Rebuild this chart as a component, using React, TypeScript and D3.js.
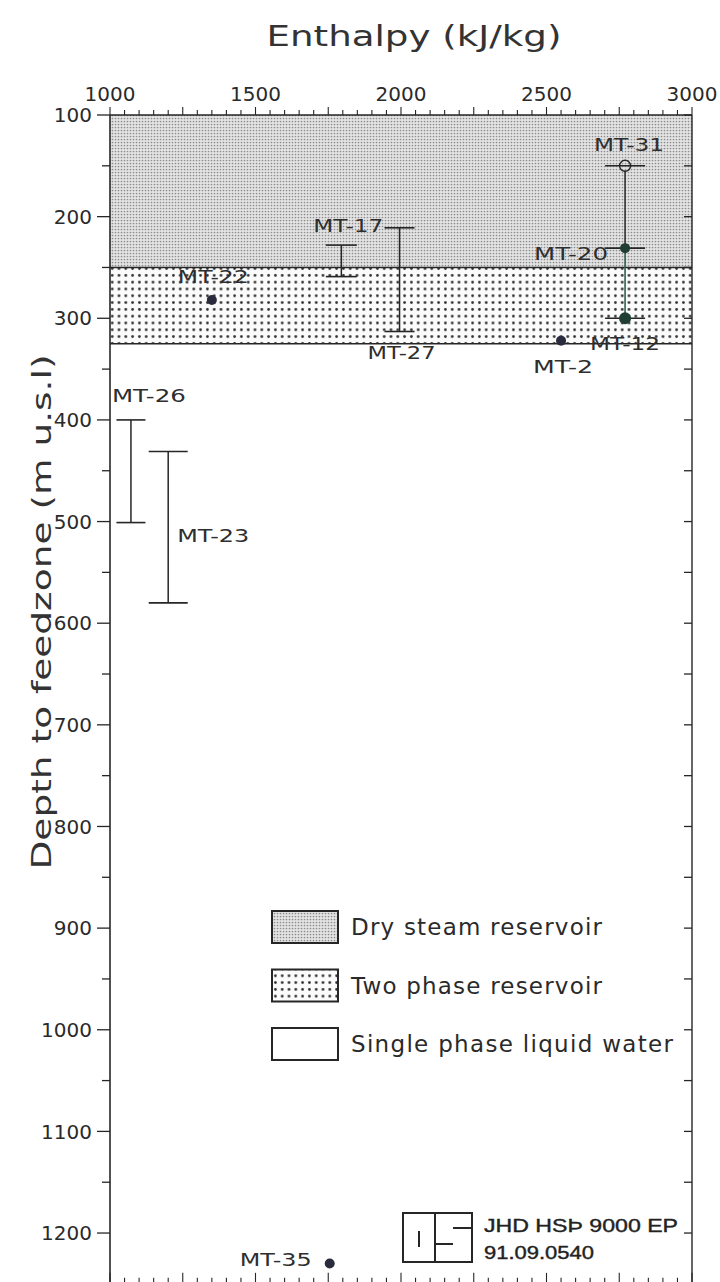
import React from "react";
import * as d3 from "d3";

// ---- data ----
const enthalpyTicks = [1000, 1500, 2000, 2500, 3000];
const depthTicks = [100, 200, 300, 400, 500, 600, 700, 800, 900, 1000, 1100, 1200];

const zoneNames = ["Dry steam reservoir", "Two phase reservoir", "Single phase liquid water"];
const zoneTop = [100, 250, 325];
const zoneBottom = [250, 325, 1250];

const barWells = ["MT-26", "MT-23", "MT-17", "MT-27"];
const barEnthalpy = [1072, 1200, 1795, 1995];
const barTop = [400, 431, 228, 211];
const barBottom = [501, 580, 259, 313];

const pointWells = ["MT-22", "MT-2", "MT-35", "MT-31", "MT-20", "MT-12"];
const pointEnthalpy = [1350, 2550, 1755, 2770, 2770, 2770];
const pointDepth = [282, 322, 1230, 150, 231, 300];
const pointOpen = [false, false, false, true, false, false];

const logoLines = ["JHD HSÞ 9000 EP", "91.09.0540"];

// ---- styles / layout ----
const W = 720;
const H = 1282;
const X0 = 110;
const X1 = 692;
const Y0 = 115;
const PXM = 1.0164;
const x = d3.scaleLinear().domain([1000, 3000]).range([X0, X1]);
const y = d3.scaleLinear().domain([100, 1250]).range([Y0, Y0 + 1150 * PXM]);

const capHalf: Record<string, number> = {
  "MT-26": 14.5, "MT-23": 19.5, "MT-17": 15.5, "MT-27": 15,
  "MT-31": 20, "MT-20": 20, "MT-12": 20,
};
// label offsets [dx, dy-of-center, width] relative to anchor (bars: top end; points: centre)
const labelOff: Record<string, [number, number, number]> = {
  "MT-26": [-19, -24, 74],
  "MT-23": [9, 84, 72],
  "MT-17": [-28, -20, 70],
  "MT-27": [-32, 125, 68],
  "MT-22": [-34, -23, 71],
  "MT-2": [-28, 26, 60],
  "MT-35": [-90, -4, 72],
  "MT-31": [-31, -21, 70],
  "MT-20": [-91, 5, 74],
  "MT-12": [-35, 25, 70],
};

const INK = "#262626";
const FONT = "'DejaVu Sans', sans-serif";

export default function App() {
  const xMinor = d3.range(1000, 3001, 50);
  const yMinor = d3.range(100, 1251, 50);
  const bottomY = y(1250);
  const ptIdx = (w: string) => pointWells.indexOf(w);
  const i31 = ptIdx("MT-31");
  const i20 = ptIdx("MT-20");
  const i12 = ptIdx("MT-12");

  return (
    <svg width={W} height={H} style={{ position: "absolute", left: 0, top: 0, background: "#fff" }}>
      <defs>
        <pattern id="dry" width="3" height="3" patternUnits="userSpaceOnUse">
          <rect width="3" height="3" fill="#e4e4e4" />
          <circle cx="1.5" cy="1.5" r="0.85" fill="#8c8c8c" />
        </pattern>
        <pattern id="two" width="6.8" height="6.8" patternUnits="userSpaceOnUse">
          <rect width="6.8" height="6.8" fill="#fbfbfb" />
          <circle cx="3.4" cy="3.4" r="1.35" fill="#303030" />
        </pattern>
      </defs>

      {/* Title */}
      <text x={414} y={46} textAnchor="middle" fontFamily={FONT} fontSize={29} fill="#333"
        textLength={295} lengthAdjust="spacingAndGlyphs">Enthalpy  (kJ/kg)</text>

      {/* Y label */}
      <text transform={`translate(51,${612}) rotate(-90)`} textAnchor="middle" fontFamily={FONT}
        fontSize={27} fill="#333" textLength={515} lengthAdjust="spacingAndGlyphs">Depth  to  feedzone  (m  u.s.l)</text>

      {/* zones */}
      <rect x={X0} y={y(zoneTop[0])} width={X1 - X0} height={y(zoneBottom[0]) - y(zoneTop[0])} fill="url(#dry)" />
      <rect x={X0} y={y(zoneTop[1])} width={X1 - X0} height={y(zoneBottom[1]) - y(zoneTop[1])} fill="url(#two)" />
      <line x1={X0} x2={X1} y1={y(zoneTop[1])} y2={y(zoneTop[1])} stroke={INK} strokeWidth={1.6} />
      <line x1={X0} x2={X1} y1={y(zoneTop[2])} y2={y(zoneTop[2])} stroke={INK} strokeWidth={1.6} />

      {/* frame */}
      <line x1={X0} x2={X1} y1={Y0} y2={Y0} stroke={INK} strokeWidth={1.6} />
      <line x1={X0} x2={X0} y1={Y0} y2={bottomY} stroke={INK} strokeWidth={1.6} />
      <line x1={X1} x2={X1} y1={Y0} y2={bottomY} stroke={INK} strokeWidth={1.4} />
      <line x1={X0} x2={X1} y1={bottomY} y2={bottomY} stroke={INK} strokeWidth={1.4} />

      {/* top ticks */}
      {xMinor.map((v) => (
        <line key={"tt" + v} x1={x(v)} x2={x(v)} y1={Y0} y2={Y0 - (v % 250 === 0 ? 8 : 5)} stroke={INK} strokeWidth={1.1} />
      ))}
      {enthalpyTicks.map((v) => (
        <text key={"tl" + v} x={x(v)} y={Y0 - 14} textAnchor="middle" fontFamily={FONT} fontSize={20} fill="#2a2a2a">{v}</text>
      ))}
      {/* bottom ticks */}
      {xMinor.map((v) => (
        <line key={"bt" + v} x1={x(v)} x2={x(v)} y1={bottomY} y2={bottomY - (v % 250 === 0 ? 11 : 6)} stroke={INK} strokeWidth={1.1} />
      ))}
      {/* left ticks */}
      {yMinor.map((v) => (
        <line key={"lt" + v} x1={X0} x2={X0 - (v % 100 === 0 ? 13 : 8)} y1={y(v)} y2={y(v)} stroke={INK} strokeWidth={1.3} />
      ))}
      {depthTicks.map((v) => (
        <text key={"ll" + v} x={X0 - 18} y={y(v)} dy="0.36em" textAnchor="end" fontFamily={FONT} fontSize={20} fill="#2a2a2a">{v}</text>
      ))}
      {/* right ticks */}
      {yMinor.map((v) => (
        <line key={"rt" + v} x1={X1} x2={X1 - 8} y1={y(v)} y2={y(v)} stroke={INK} strokeWidth={1.3} />
      ))}

      {/* interval bars */}
      {barWells.map((w, i) => {
        const cx = x(barEnthalpy[i]);
        const t = y(barTop[i]);
        const b = y(barBottom[i]);
        const h = capHalf[w];
        const [dx, dy, tl] = labelOff[w];
        return (
          <g key={w}>
            <line x1={cx} x2={cx} y1={t} y2={b} stroke={INK} strokeWidth={1.5} />
            <line x1={cx - h} x2={cx + h} y1={t} y2={t} stroke={INK} strokeWidth={1.6} />
            <line x1={cx - h} x2={cx + h} y1={b} y2={b} stroke={INK} strokeWidth={1.6} />
            <text x={cx + dx} y={t + dy} dy="0.36em" fontFamily={FONT} fontSize={18} fill="#2e2e2e"
              textLength={tl} lengthAdjust="spacingAndGlyphs">{w}</text>
          </g>
        );
      })}

      {/* MT-31 / MT-20 / MT-12 column */}
      <line x1={x(pointEnthalpy[i31])} x2={x(pointEnthalpy[i20])} y1={y(pointDepth[i31]) + 5} y2={y(pointDepth[i20])} stroke={INK} strokeWidth={1.5} />
      <line x1={x(pointEnthalpy[i20])} x2={x(pointEnthalpy[i12])} y1={y(pointDepth[i20])} y2={y(pointDepth[i12])} stroke="#2f5f4a" strokeWidth={1.6} />
      {[i31, i20, i12].map((k) => {
        const cx = x(pointEnthalpy[k]);
        const cy = y(pointDepth[k]);
        const h = capHalf[pointWells[k]];
        return <line key={"cap" + k} x1={cx - h} x2={cx + h} y1={cy} y2={cy} stroke={INK} strokeWidth={1.6} />;
      })}

      {/* points */}
      {pointWells.map((w, i) => {
        const cx = x(pointEnthalpy[i]);
        const cy = y(pointDepth[i]);
        const [dx, dy, tl] = labelOff[w];
        const green = i === i20 || i === i12;
        return (
          <g key={w}>
            {pointOpen[i] ? (
              <circle cx={cx} cy={cy} r={5.5} fill="none" stroke={INK} strokeWidth={1.4} />
            ) : (
              <circle cx={cx} cy={cy} r={i === i12 ? 6 : 5} fill={green ? "#1f3d32" : "#2a2b3d"} />
            )}
            <text x={cx + dx} y={cy + dy} dy="0.36em" fontFamily={FONT} fontSize={18} fill="#2e2e2e"
              textLength={tl} lengthAdjust="spacingAndGlyphs">{w}</text>
          </g>
        );
      })}

      {/* legend */}
      {zoneNames.map((n, i) => {
        const ly = 911 + i * 58.5;
        const fill = i === 0 ? "url(#dry)" : i === 1 ? "url(#two)" : "#fff";
        const tl = [251, 251, 322][i];
        return (
          <g key={n}>
            <rect x={272} y={ly} width={66} height={32} fill={fill} stroke={INK} strokeWidth={2} />
            <text x={351} y={ly + 16} dy="0.36em" fontFamily={FONT} fontSize={23} fill="#2a2a2a"
              textLength={tl} lengthAdjust="spacing">{n}</text>
          </g>
        );
      })}

      {/* logo */}
      <g stroke={INK} strokeWidth={2} fill="none">
        <rect x={403} y={1213} width={69} height={49} />
        <line x1={435} x2={435} y1={1213} y2={1262} />
        <line x1={419} x2={419} y1={1231} y2={1247} />
        <line x1={453} x2={472} y1={1228} y2={1228} />
        <line x1={435} x2={453} y1={1244} y2={1244} />
      </g>
      <text x={484} y={1232} fontFamily="'Liberation Sans', Arial, sans-serif" fontSize={19}
        fill="#222" stroke="#222" strokeWidth={0.4} textLength={194} lengthAdjust="spacingAndGlyphs">{logoLines[0]}</text>
      <text x={484} y={1259} fontFamily="'Liberation Sans', Arial, sans-serif" fontSize={19}
        fill="#222" stroke="#222" strokeWidth={0.4} textLength={110} lengthAdjust="spacingAndGlyphs">{logoLines[1]}</text>
    </svg>
  );
}
